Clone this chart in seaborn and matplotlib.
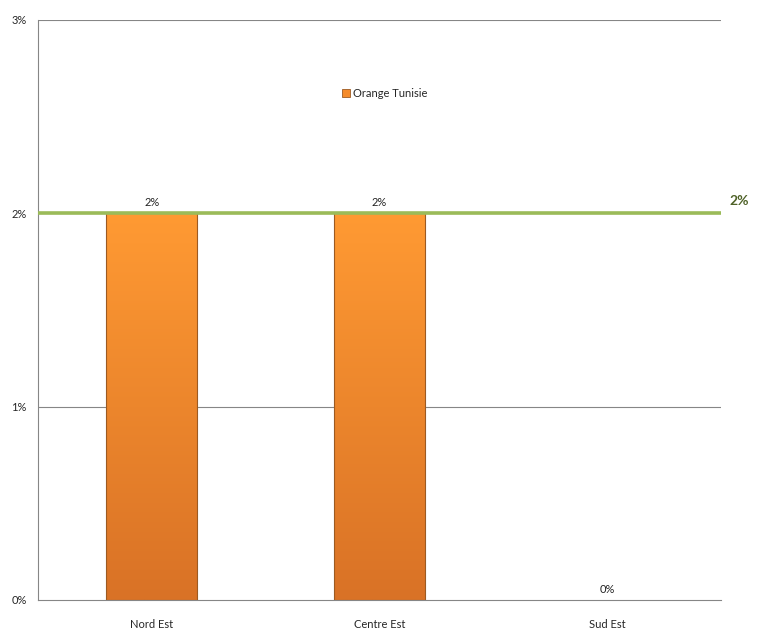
import numpy as np
import pandas as pd
import matplotlib
matplotlib.use("Agg")
import matplotlib.pyplot as plt
import seaborn as sns
from matplotlib.colors import LinearSegmentedColormap
from matplotlib.ticker import FuncFormatter
from matplotlib.patches import Patch

categories = ["Nord Est", "Centre Est", "Sud Est"]
values = [0.02, 0.02, 0.0]
series_name = "Orange Tunisie"
target_value = 0.02
y_ticks = [0.0, 0.01, 0.02, 0.03]

sns.set_style("white")
plt.rcParams['font.family'] = ['Lato', 'DejaVu Sans']

df = pd.DataFrame({"Region": categories, "Share": values, "Series": series_name})

fig = plt.figure(figsize=(7.65, 6.44), dpi=100)
ax = fig.add_axes([38/765, 44/644, (721-38)/765, (600-20)/644])

sns.barplot(data=df, x="Region", y="Share", hue="Series", ax=ax, width=0.4,
            palette=["#F58B2A"], edgecolor="#9C5A22", linewidth=0.8, legend=False)

# gradient fill on bars
cmap = LinearSegmentedColormap.from_list("org", ["#D97226", "#FF9A33"])
grad = np.linspace(0, 1, 256).reshape(-1, 1)
for p in ax.patches:
    h = p.get_height()
    if h <= 0:
        p.set_visible(False)
        continue
    x0 = p.get_x(); w = p.get_width()
    im = ax.imshow(grad, extent=[x0, x0 + w, 0, h], origin="lower", cmap=cmap,
                   aspect="auto", zorder=p.get_zorder() + 0.1)
    im.set_clip_path(p)
    p.set_facecolor("none")
    p.set_zorder(p.get_zorder() + 0.2)
ax.set_xlim(-0.5, 2.5)
ax.set_ylim(0, 0.03)

# grid
for yv in y_ticks[1:]:
    ax.axhline(yv, color="#868686", lw=0.8, zorder=0.5)

# target line
ax.axhline(target_value, color="#9BBB59", lw=2.6, zorder=5)
ax.annotate(f"{target_value*100:.0f}%", (1.013, target_value), xycoords=ax.get_yaxis_transform(),
            xytext=(0, 9), textcoords="offset points",
            ha="left", va="center", fontsize=10, color="#4F6228", fontweight="bold",
            annotation_clip=False)

# data labels
for i, v in enumerate(values):
    ax.annotate(f"{v*100:.0f}%", (i, v), xytext=(0, 3.5), textcoords="offset points",
                ha="center", va="bottom", fontsize=8, color="#222222")

# axes styling
for s in ["top", "right"]:
    ax.spines[s].set_visible(False)
for s in ["left", "bottom"]:
    ax.spines[s].set_color("#868686")
    ax.spines[s].set_linewidth(0.8)

ax.set_yticks(y_ticks)
ax.yaxis.set_major_formatter(FuncFormatter(lambda v, p: f"{v*100:.0f}%"))
ax.tick_params(axis="y", direction="out", length=4, color="#868686", labelsize=8, pad=4)
ax.set_xticks(range(len(categories)))
ax.set_xticklabels(categories)
ax.set_xticks([-0.5, 0.5, 1.5, 2.5], minor=True)
ax.tick_params(axis="x", which="major", length=0, labelsize=8, pad=14)
ax.tick_params(axis="x", which="minor", direction="out", length=4, color="#868686")
ax.set_xlabel("")
ax.set_ylabel("")

# legend
handle = Patch(facecolor="#F58B2A", edgecolor="#9C5A22", linewidth=0.6)
ax.legend([handle], [series_name], loc="center", bbox_to_anchor=(0.508, 0.874),
          frameon=False, fontsize=8, handlelength=0.7, handleheight=0.7,
          handletextpad=0.3)

fig.savefig("out.png", dpi=100)
